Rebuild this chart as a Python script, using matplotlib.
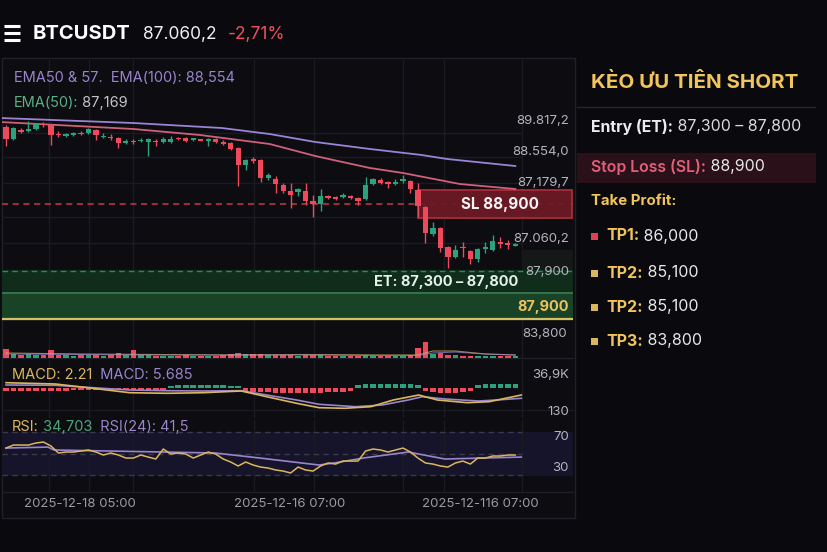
import numpy as np
import matplotlib.pyplot as plt
from matplotlib.patches import Rectangle
from matplotlib.lines import Line2D

plt.rcParams['font.family'] = ['Inter', 'Noto Sans', 'DejaVu Sans']

W, H = 828, 552
BG = '#0a0a0e'
PANEL = '#0c0c11'
GRID = '#1b1b22'
UP = '#2ba27c'
DOWN = '#ee4a5c'
GOLD = '#dcb65c'
PURPLE = '#9a84cc'
LABEL = '#b4b4bc'

# ---------------- data ----------------
opens = [89460, 89220, 89400, 89380, 89420, 89520, 89500, 89320, 89290, 89310,
         89340, 89340, 89400, 89260, 89260, 89240, 89140, 89180, 89180, 89160,
         89180, 89160, 89160, 89240, 89240, 89210, 89210, 89190, 89220, 89160,
         89140, 89040, 88700, 88820, 88800, 88440, 88420, 88300, 88180, 88160,
         88180, 87980, 87920, 88070, 88050, 88070, 88090, 88040, 88020, 88320,
         88410, 88350, 88330, 88390, 88380, 88200, 87860, 87320, 87440, 87060,
         86860, 87060, 86980, 86820, 87030, 87000, 87150, 87130, 87090]
highs = [89500, 89460, 89440, 89580, 89540, 89560, 89520, 89380, 89340, 89360,
         89380, 89440, 89420, 89340, 89320, 89260, 89220, 89220, 89240, 89240,
         89220, 89260, 89280, 89260, 89260, 89240, 89220, 89240, 89240, 89200,
         89160, 89060, 88820, 88860, 88820, 88540, 88480, 88340, 88340, 88240,
         88340, 88100, 88220, 88100, 88080, 88140, 88100, 88060, 88460, 88440,
         88440, 88380, 88420, 88500, 88400, 88340, 87880, 87560, 87460, 87080,
         87100, 87160, 87000, 87040, 87160, 87300, 87260, 87200, 87140]
lows = [89080, 89200, 89340, 89360, 89400, 89460, 89100, 89260, 89260, 89280,
        89300, 89320, 89200, 89240, 89200, 89040, 89120, 89120, 89160, 88880,
        89080, 89140, 89140, 89200, 89160, 89180, 89180, 89080, 89140, 89100,
        89000, 88280, 88600, 88740, 88360, 88400, 88140, 88140, 87840, 88080,
        87900, 87660, 87780, 88020, 88000, 88040, 88020, 87900, 88000, 88300,
        88320, 88240, 88300, 88340, 88140, 87660, 87140, 87280, 86960, 86640,
        86840, 86860, 86720, 86760, 86940, 86980, 87040, 87020, 87080]
closes = [89220, 89440, 89360, 89420, 89520, 89500, 89300, 89300, 89310, 89330,
          89320, 89420, 89300, 89280, 89240, 89140, 89180, 89160, 89200, 89220,
          89160, 89220, 89220, 89220, 89180, 89230, 89190, 89210, 89160, 89120,
          89020, 88700, 88800, 88780, 88440, 88500, 88320, 88180, 88100, 88220,
          87980, 87920, 88080, 88050, 88030, 88090, 88040, 87990, 88300, 88420,
          88340, 88330, 88350, 88410, 88220, 87880, 87340, 87440, 87040, 86860,
          87000, 87040, 86820, 87020, 87050, 87180, 87130, 87110, 87110]
volumes = [9, 4, 3, 4, 3, 3, 8, 3, 3, 2, 3, 3, 3, 2, 3, 5, 3, 8, 3, 3,
           2, 2, 2, 2, 3, 2, 2, 2, 2, 3, 4, 5, 4, 4, 4, 3, 3, 3, 3, 2,
           3, 3, 3, 2, 2, 2, 2, 2, 3, 2, 2, 2, 2, 2, 3, 10, 16, 4, 5, 3,
           3, 2, 2, 2, 2, 2, 2, 2, 2]
vol_ma_x = [0, 10, 20, 30, 40, 50, 55, 57, 60, 64, 68]
vol_ma_gold = [5, 4, 3.5, 3, 3.5, 3, 3, 7, 7, 4, 3]
vol_ma_purple = [4, 3.5, 3, 3, 3, 2.5, 2.5, 5, 6, 4, 3]

ema50_x = [-0.8, 17, 25.9, 35.2, 41.3, 43.7, 48.6, 53, 60.6, 68]
ema50 = [89560, 89420, 89300, 89120, 88880, 88800, 88640, 88540, 88320, 88220]
ema100_x = [-0.8, 17, 28.8, 35.2, 41.3, 48.6, 55.5, 58.9, 68]
ema100 = [89640, 89540, 89440, 89320, 89160, 89020, 88900, 88820, 88680]

macd_hist = [-3, -3, -3, -3, -3, -3, -3, -3, -3,
             -2, -2, -2, -2, -2, -2, -2, -2, -2, -2, -2, -2, -2,
             2, 3, 3, 3, 3, 3, 3, 3, 2, 2,
             -3, -4, -4, -4, -5, -5, -5, -5, -5, -5, -5, -4, -4, -4, -3,
             3, 4, 4, 4, 4, 4, 4, 4, 3,
             -3, -4, -5, -5, -5, -4, -3,
             3, 4, 4, 4, 4, 4]
macd_gold_x = [0, 6.6, 11.6, 16.5, 21.5, 26.4, 31.4, 34.8, 38.8, 41.8, 45.2, 48.7,
               51.7, 55.1, 57.6, 61.6, 64.5, 68.8]
macd_gold = [5.3, 4, -0.3, -4.7, -5.3, -4.7, -3, -8.7, -15.3, -19.7, -20.3, -18.7,
             -12, -7, -12, -14.7, -13.7, -7]
macd_purple_x = [0, 6.6, 11.6, 16.5, 21.5, 26.4, 31.4, 34.8, 38.8, 41.8, 46.7, 50.2,
                 53.7, 55.6, 58.6, 63.1, 65.5, 68.8]
macd_purple = [3, 2.7, 0.3, -2, -2.7, -3, -2.7, -7, -12, -16.3, -18.7, -17,
               -12, -8.7, -11, -13, -12, -10.3]

rsi_gold = [55.1, 57.9, 57.9, 57.9, 59.8, 60.7, 57.0, 50.5, 51.4, 51.4,
            52.3, 53.3, 51.4, 48.6, 50.5, 48.6, 45.8, 45.8, 48.6, 46.7,
            44.9, 54.2, 49.5, 50.5, 49.5, 45.8, 48.6, 51.4, 49.5, 44.9,
            42.1, 38.4, 42.1, 39.3, 37.4, 36.5, 34.7, 33.7, 31.9, 37.4,
            34.7, 33.7, 38.4, 41.2, 40.2, 43.0, 43.0, 43.0, 52.3, 54.2,
            53.3, 51.4, 53.3, 55.1, 51.4, 45.8, 41.2, 40.2, 38.4, 37.4,
            41.2, 43.0, 40.2, 45.8, 45.8, 47.7, 47.7, 48.6, 48.6]
rsi_purple_x = [0, 5.6, 6.4, 14, 27.9, 33.9, 41.8, 43.8, 47.7, 53.7, 58.6, 63.6, 68.8]
rsi_purple = [55.1, 56.0, 53.3, 52.3, 50.5, 45.8, 39.3, 41.2, 45.8, 51.4, 44.9, 45.8, 46.7]

grid_x = [5.74, 11.08, 16.96, 33.1, 41.1, 53.0, 58.5, 68.9]
grid_price = [89340, 88860, 88340, 87660, 87140]
price_ticks = [89580, 88960, 88340, 87220, 86560]
price_labels = ['89.817,2', '88.554,0', '87,179,7', '87.060,2', '87,900']

sl_price = 87920
sl_zone = (87640, 88200)
sl_from = 55
et_zone = (85620, 86600)
et_mid = 86140
label_box = (86600, 87000)

x_labels = ['2025-12-18 05:00', '2025-12-16 07:00', '2025-12-116 07:00']
x_label_pos = [9.9, 37.8, 63.3]

tp_names = ['TP1:', 'TP2:', 'TP2:', 'TP3:']
tp_values = ['86,000', '85,100', '85,100', '83,800']
tp_colors = ['#e0404f', GOLD, GOLD, GOLD]

# ---------------- figure ----------------
fig = plt.figure(figsize=(W / 100, H / 100), dpi=100, facecolor=BG)
XL = (-0.534, 75.7)


def px_axes(x0, y0, x1, y1):
    a = fig.add_axes([x0 / W, 1 - y1 / H, (x1 - x0) / W, (y1 - y0) / H])
    a.set_xlim(*XL)
    a.set_axis_off()
    return a


def frect(x0, y0, x1, y1, z=-5, **kw):
    fig.patches.append(Rectangle((x0 / W, 1 - y1 / H), (x1 - x0) / W, (y1 - y0) / H,
                                 transform=fig.transFigure, zorder=z, **kw))


def fline(x0, y0, x1, y1, z=-4, **kw):
    fig.lines.append(Line2D([x0 / W, x1 / W], [1 - y0 / H, 1 - y1 / H],
                            transform=fig.transFigure, zorder=z, **kw))


def chain(x, y, parts, size):
    r = fig.canvas.get_renderer()
    for s, c, w in parts:
        t = fig.text(x / W, 1 - y / H, s, color=c, fontsize=size, fontweight=w,
                     va='center', ha='left', zorder=10)
        x += t.get_window_extent(renderer=r).width


# panel background
frect(2, 58, 575, 518, facecolor=PANEL, edgecolor='#202028', lw=1)
fline(2, 358, 573, 358, color='#1f1f27', lw=1)
fline(2, 410, 573, 410, color='#1a1a21', lw=1)
fline(2, 492, 573, 492, color='#1f1f27', lw=1)

# ---- main price axes ----
ax = px_axes(2, 60, 573, 322)
ax.set_ylim(85560, 90800)
for g in grid_x:
    ax.axvline(g, color=GRID, lw=1, zorder=0)
ax.hlines(grid_price, XL[0], grid_x[-1], color=GRID, lw=1, zorder=0)

ax.axhspan(label_box[0], label_box[1], xmin=(grid_x[-1] - XL[0]) / (XL[1] - XL[0]),
           color='#141816', zorder=0.5)

# ET zone
ax.axhspan(et_mid, et_zone[1], color='#0f2d1a', zorder=1)
ax.axhspan(et_zone[0], et_mid, color='#184327', zorder=1)
ax.axhline(et_zone[1] - 20, color='#2f8a50', lw=1, ls=(0, (4, 3)), zorder=2)
ax.axhline(et_mid, color='#3c7d52', lw=1.2, zorder=2)
ax.axhline(et_zone[0], color='#d4c266', lw=1.6, zorder=2)
ax.text(68.4, 86360, 'ET: 87,300 – 87,800', color='#e4f2e8', fontsize=10.5,
        fontweight='bold', ha='right', va='center', zorder=5)
ax.text(0.993, 85860, '87,900', color='#ecc260', fontsize=10.5, fontweight='bold',
        ha='right', va='center', transform=ax.get_yaxis_transform(), zorder=5)

# SL
ax.hlines(sl_price, XL[0], XL[1], color='#c23a48', lw=1.1, ls=(0, (4, 3)), zorder=1.5)
ax.add_patch(Rectangle((sl_from, sl_zone[0]), XL[1] - sl_from - 0.1, sl_zone[1] - sl_zone[0],
                       facecolor='#6c1a25', edgecolor='#b02c3c', lw=1.3, alpha=0.95, zorder=2))
ax.text(66, sl_price, 'SL 88,900', color='#f4f4f4', fontsize=11, fontweight='bold',
        ha='center', va='center', zorder=5)

# EMAs
ax.plot(ema100_x, ema100, color='#9a84d4', lw=1.3, zorder=3)
ax.plot(ema50_x, ema50, color='#d0607a', lw=1.3, zorder=3)

# candles
idx = np.arange(len(opens))
o = np.array(opens)
c = np.array(closes)
cols = [UP if cc >= oo else DOWN for oo, cc in zip(o, c)]
ax.vlines(idx, lows, highs, colors=cols, lw=1, zorder=4)
ax.bar(idx, np.maximum(np.abs(c - o), 30), bottom=np.minimum(o, c), width=0.7,
       color=cols, zorder=4)

for p, s in zip(price_ticks, price_labels):
    ax.text(0.993, p, s, color=LABEL, fontsize=9.5, ha='right', va='center',
            transform=ax.get_yaxis_transform(), zorder=5)

# ---- volume ----
axv = px_axes(2, 322, 573, 358)
axv.set_ylim(0, 36)
for g in grid_x:
    axv.axvline(g, color=GRID, lw=1, zorder=0)
axv.bar(idx, volumes, width=0.75, color=cols, zorder=2)
axv.plot(vol_ma_x, vol_ma_gold, color=GOLD, lw=0.8, alpha=0.7, zorder=3)
axv.plot(vol_ma_x, vol_ma_purple, color=PURPLE, lw=0.8, alpha=0.7, zorder=3)
axv.text(0.99, 24, '83,800', color=LABEL, fontsize=9.5, ha='right', va='center',
         transform=axv.get_yaxis_transform())

# ---- MACD ----
axm = px_axes(2, 360, 573, 418)
axm.set_ylim(-30, 28)
for g in grid_x:
    axm.axvline(g, color=GRID, lw=1, zorder=0)
hist_cols = [UP if h > 0 else DOWN for h in macd_hist]
axm.bar(idx, macd_hist, width=0.75, color=hist_cols, zorder=2)
axm.plot(macd_purple_x, macd_purple, color=PURPLE, lw=1.2, zorder=3)
axm.plot(macd_gold_x, macd_gold, color=GOLD, lw=1.2, zorder=3)
axm.text(0.993, 13, '36,9K', color=LABEL, fontsize=9.5, ha='right', va='center',
         transform=axm.get_yaxis_transform())
axm.text(0.993, -24, '130', color=LABEL, fontsize=9.5, ha='right', va='center',
         transform=axm.get_yaxis_transform())

# ---- RSI ----
axr = px_axes(2, 420, 573, 492)
axr.set_ylim(14.2, 81.2)
axr.axhspan(30, 70, color='#16142a', zorder=0)
for g in grid_x:
    axr.axvline(g, color=GRID, lw=1, zorder=0.5)
axr.hlines([70, 50, 30], XL[0], grid_x[-1], color='#3a3a48', lw=1, ls=(0, (4, 3)), zorder=1)
axr.plot(rsi_purple_x, rsi_purple, color=PURPLE, lw=1.2, zorder=3)
axr.plot(idx, rsi_gold, color=GOLD, lw=1.1, zorder=3)
axr.text(0.993, 65.3, '70', color=LABEL, fontsize=9.5, ha='right', va='center',
         transform=axr.get_yaxis_transform())
axr.text(0.993, 36.5, '30', color=LABEL, fontsize=9.5, ha='right', va='center',
         transform=axr.get_yaxis_transform())

# x labels
for xp, s in zip(x_label_pos, x_labels):
    axr.text(xp, -0.17, s, color='#9a9aa2', fontsize=9.5, ha='center', va='center',
             transform=axr.get_xaxis_transform())

# ---- indicator legends ----
chain(14, 78, [('EMA50 & 57.  EMA(100): 88,554', '#9a84cc', 'normal')], 10.5)
chain(14, 103, [('EMA(50):', '#5fae84', 'normal'), (' 87,169', '#c4c4c8', 'normal')], 10.5)
chain(12, 375, [('MACD: 2.21', GOLD, 'normal'), ('  MACD: 5.685', PURPLE, 'normal')], 10.5)
chain(12, 427, [('RSI:', GOLD, 'normal'), (' 34,703', '#4fa57a', 'normal'),
                ('  RSI(24): 41,5', PURPLE, 'normal')], 10.5)

# ---- header ----
for yy in (26, 33, 40):
    fline(4, yy, 20, yy, z=5, color='white', lw=2.2, solid_capstyle='butt')
chain(33, 34, [('BTCUSDT', 'white', 'bold')], 14.5)
chain(143, 34, [('87.060,2', '#f0f0f0', 'normal')], 12.5)
chain(228, 34, [('-2,71%', '#f0505e', 'normal')], 12.5)

# ---- right panel ----
chain(591, 82, [('KÈO ƯU TIÊN SHORT', '#f2c55c', 'bold')], 14.8)
fline(577, 107, 815, 107, color='#26262d', lw=1)
chain(591, 127, [('Entry (ET):', '#ececec', 'bold'), (' 87,300 – 87,800', '#dcdcdc', 'normal')], 11.4)
frect(577, 153, 816, 183, facecolor='#2a1019', edgecolor='none')
chain(591, 167, [('Stop Loss (SL):', '#e0607a', 'semibold'), (' 88,900', '#e8e8e8', 'normal')], 11.4)
chain(591, 201, [('Take Profit:', '#f2c55c', 'bold')], 10.8)
for ty, name, val, col in zip([236, 273, 307, 341], tp_names, tp_values, tp_colors):
    frect(591, ty - 3.5, 598, ty + 3.5, z=5, facecolor=col, edgecolor='none')
    chain(606, ty, [(name, '#f2c55c', 'bold'), (' ' + val, '#e8e8e8', 'normal')], 11.5)

fig.savefig('out.png', dpi=100, facecolor=BG)
